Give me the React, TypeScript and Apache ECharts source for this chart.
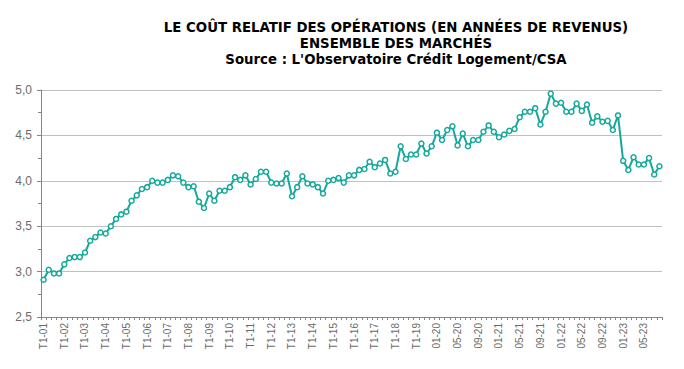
import React, { useEffect, useRef } from "react";
import * as echarts from "echarts";

const titleLines = [
  "LE COÛT RELATIF DES OPÉRATIONS (EN ANNÉES DE REVENUS)",
  "ENSEMBLE DES MARCHÉS",
  "Source : L'Observatoire Crédit Logement/CSA",
];

const quarterYears = ["01","02","03","04","05","06","07","08","09","10","11","12","13","14","15","16","17","18","19"];
const monthYears = ["20", "21", "22", "23"];
const lastMonthOf2023 = 8;

const quarterlyCategories: string[] = [];
quarterYears.forEach((y) => {
  for (let q = 1; q <= 4; q++) quarterlyCategories.push(`T${q}-${y}`);
});
const monthlyCategories: string[] = [];
monthYears.forEach((y) => {
  const last = y === "23" ? lastMonthOf2023 : 12;
  for (let m = 1; m <= last; m++) monthlyCategories.push(`${String(m).padStart(2, "0")}-${y}`);
});
const categories = [...quarterlyCategories, ...monthlyCategories];

// T1-01 .. T4-19
const quarterlyValues = [
  2.91, 3.02, 2.98, 2.98, 3.08, 3.15, 3.16, 3.16, 3.21, 3.34, 3.38, 3.43, 3.42, 3.5, 3.58, 3.63,
  3.66, 3.78, 3.84, 3.91, 3.93, 4.0, 3.98, 3.98, 4.01, 4.06, 4.05, 3.98, 3.93, 3.94, 3.77, 3.7,
  3.86, 3.78, 3.89, 3.89, 3.93, 4.04, 4.01, 4.06, 3.96, 4.02, 4.1, 4.1, 3.98, 3.97, 3.97, 4.08,
  3.83, 3.93, 4.05, 3.97, 3.96, 3.93, 3.86, 4.0, 4.01, 4.03, 3.98, 4.06, 4.06, 4.12, 4.13, 4.21,
  4.15, 4.19, 4.23, 4.08, 4.1, 4.38, 4.24, 4.29, 4.29, 4.41, 4.3, 4.38,
];
// 01-20 .. 08-23
const monthlyValues = [
  4.53, 4.45, 4.56, 4.6, 4.39, 4.52, 4.38, 4.45, 4.45, 4.54, 4.61, 4.54,
  4.48, 4.51, 4.55, 4.57, 4.7, 4.76, 4.76, 4.8, 4.62, 4.76, 4.96, 4.85,
  4.86, 4.76, 4.76, 4.85, 4.77, 4.84, 4.64, 4.71, 4.65, 4.66, 4.56, 4.72,
  4.22, 4.12, 4.26, 4.18, 4.18, 4.25, 4.07, 4.16,
];
const values = [...quarterlyValues, ...monthlyValues];

const yTicks = { min: 2.5, max: 5.0, interval: 0.5 };

export default function App() {
  const ref = useRef<HTMLDivElement>(null);
  useEffect(() => {
    if (!ref.current) return;
    const chart = echarts.init(ref.current, undefined, { renderer: "svg" });
    const titleFont = "bold 14.8px 'DejaVu Sans Condensed', 'DejaVu Sans', sans-serif";
    chart.setOption({
      animation: false,
      backgroundColor: "#ffffff",
      graphic: titleLines.map((t, i) => ({
        type: "text",
        x: 396,
        y: 26 + i * 16.2,
        style: {
          text: t,
          font: titleFont,
          fill: "#000000",
          textAlign: "center",
          textVerticalAlign: "middle",
        },
      })),
      grid: { left: 41, right: 22, top: 90, bottom: 52, containLabel: false },
      xAxis: {
        type: "category",
        data: categories,
        boundaryGap: true,
        axisLine: { show: true, lineStyle: { color: "#868686", width: 1 } },
        axisTick: { show: true, interval: 0, length: 3, lineStyle: { color: "#868686" } },
        axisLabel: {
          interval: 3,
          rotate: 90,
          margin: 6,
          fontSize: 10,
          color: "#6b6b6b",
          fontFamily: "'Liberation Sans', Arial, sans-serif",
        },
        splitLine: { show: false },
      },
      yAxis: {
        type: "value",
        min: yTicks.min,
        max: yTicks.max,
        interval: yTicks.interval,
        axisLine: { show: true, lineStyle: { color: "#868686", width: 1 } },
        axisTick: { show: true, length: 4, lineStyle: { color: "#868686" } },
        minorTick: { show: true, splitNumber: 2, length: 3, lineStyle: { color: "#868686" } },
        axisLabel: {
          margin: 9,
          fontSize: 12,
          color: "#6b6b6b",
          fontFamily: "'Liberation Sans', Arial, sans-serif",
          formatter: (v: number) => v.toFixed(1).replace(".", ","),
        },
        splitLine: { show: true, lineStyle: { color: "#c0c0c0", width: 1 } },
      },
      series: [
        {
          type: "line",
          data: values,
          symbol: "circle",
          symbolSize: 5,
          showAllSymbol: true,
          lineStyle: { color: "#15a89b", width: 2 },
          itemStyle: { color: "#ffffff", borderColor: "#15a89b", borderWidth: 1.5 },
        },
      ],
    });
    return () => chart.dispose();
  }, []);
  return (
    <div
      ref={ref}
      style={{ position: "fixed", left: 0, top: 0, width: 684, height: 369, background: "#fff" }}
    />
  );
}
